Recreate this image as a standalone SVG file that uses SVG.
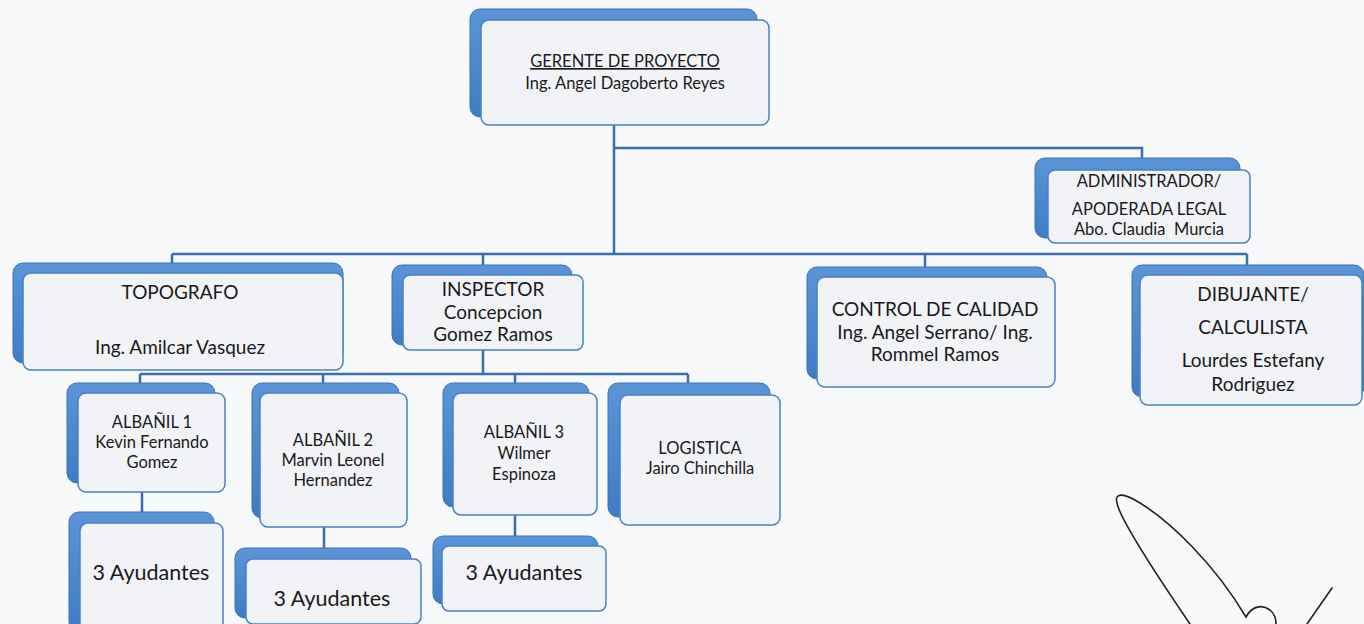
<svg xmlns="http://www.w3.org/2000/svg" width="1364" height="624" viewBox="0 0 1364 624">
<defs>
<linearGradient id="bk" x1="0" y1="0" x2="0" y2="1">
<stop offset="0" stop-color="#5b95d8"/>
<stop offset="1" stop-color="#3f7cc4"/>
</linearGradient>
<style>
.back{fill:url(#bk);stroke:#3a72b8;stroke-width:1}
.front{fill:#f1f3f6;stroke:#4a80c2;stroke-width:1.5}
.t{font-family:Lato,"Liberation Sans",sans-serif;font-size:16.5px;fill:#1a1a1a;text-anchor:middle;white-space:pre}
.m{font-size:19px}
.s{font-size:16.5px}
.b{font-size:21.5px}
.con{fill:none;stroke:#3a6db2;stroke-width:2.5}
.sig{fill:none;stroke:#222;stroke-width:1.6;stroke-linecap:round}
</style>
</defs>
<rect width="1364" height="624" fill="#f8f9fa"/>
<g id="connectors">
<path class="con" d="M614,124 V254 M614,148 H1142 V158"/>
<path class="con" d="M172,254 H1247 M172,254 V263 M483,254 V265 M925,254 V267 M1247,254 V265"/>
<path class="con" d="M483,350 V374 M140,374 H688 M140,374 V383 M323,374 V383 M515,374 V383 M688,374 V383"/>
<path class="con" d="M142,492 V512 M324,527 V548 M515,515 V536"/>
</g>
<g id="gerente">
<rect class="back" x="470" y="9" width="287" height="108" rx="10"/>
<rect class="front" x="481" y="20" width="288" height="105" rx="8"/>
<text class="t" x="625" y="67" text-decoration="underline">GERENTE DE PROYECTO</text>
<text class="t" x="625" y="89">Ing. Angel Dagoberto Reyes</text>
</g>
<g id="administrador">
<rect class="back" x="1035" y="158" width="205" height="80" rx="10"/>
<rect class="front" x="1048" y="170" width="202" height="73" rx="7"/>
<text class="t" x="1149" y="187">ADMINISTRADOR/</text>
<text class="t" x="1149" y="215">APODERADA LEGAL</text>
<text class="t" x="1149" y="235">Abo. Claudia  Murcia</text>
</g>
<g id="topografo">
<rect class="back" x="13" y="263" width="330" height="100" rx="10"/>
<rect class="front" x="23" y="273" width="320" height="97" rx="8"/>
<text class="t m" x="180" y="299">TOPOGRAFO</text>
<text class="t m" x="180" y="354">Ing. Amilcar Vasquez</text>
</g>
<g id="inspector">
<rect class="back" x="392" y="265" width="180" height="80" rx="10"/>
<rect class="front" x="403" y="275" width="180" height="75" rx="7"/>
<text class="t m" x="493" y="296">INSPECTOR</text>
<text class="t m" x="493" y="319">Concepcion</text>
<text class="t m" x="493" y="341">Gomez Ramos</text>
</g>
<g id="control">
<rect class="back" x="807" y="267" width="240" height="112" rx="10"/>
<rect class="front" x="817" y="277" width="238" height="110" rx="8"/>
<text class="t m" x="935" y="316">CONTROL DE CALIDAD</text>
<text class="t m" x="935" y="339">Ing. Angel Serrano/ Ing.</text>
<text class="t m" x="935" y="361">Rommel Ramos</text>
</g>
<g id="dibujante">
<rect class="back" x="1132" y="265" width="232" height="132" rx="10"/>
<rect class="front" x="1140" y="275" width="222" height="130" rx="8"/>
<text class="t m" x="1253" y="301">DIBUJANTE/</text>
<text class="t m" x="1253" y="334">CALCULISTA</text>
<text class="t m" x="1253" y="367">Lourdes Estefany</text>
<text class="t m" x="1253" y="391">Rodriguez</text>
</g>
<g id="albanil1">
<rect class="back" x="67" y="383" width="148" height="100" rx="10"/>
<rect class="front" x="78" y="393" width="147" height="99" rx="8"/>
<text class="t s" x="152" y="428">ALBAÑIL 1</text>
<text class="t s" x="152" y="448">Kevin Fernando</text>
<text class="t s" x="152" y="468">Gomez</text>
</g>
<g id="albanil2">
<rect class="back" x="252" y="383" width="147" height="135" rx="10"/>
<rect class="front" x="260" y="393" width="147" height="134" rx="8"/>
<text class="t s" x="333" y="446">ALBAÑIL 2</text>
<text class="t s" x="333" y="466">Marvin Leonel</text>
<text class="t s" x="333" y="486">Hernandez</text>
</g>
<g id="albanil3">
<rect class="back" x="443" y="383" width="146" height="124" rx="10"/>
<rect class="front" x="453" y="393" width="144" height="122" rx="8"/>
<text class="t s" x="524" y="438">ALBAÑIL 3</text>
<text class="t s" x="524" y="459">Wilmer</text>
<text class="t s" x="524" y="480">Espinoza</text>
</g>
<g id="logistica">
<rect class="back" x="608" y="383" width="162" height="134" rx="10"/>
<rect class="front" x="620" y="395" width="160" height="130" rx="8"/>
<text class="t s" x="700" y="454">LOGISTICA</text>
<text class="t s" x="700" y="474">Jairo Chinchilla</text>
</g>
<g id="ayudantes1">
<rect class="back" x="69" y="512" width="145" height="120" rx="10"/>
<rect class="front" x="80" y="523" width="143" height="110" rx="8"/>
<text class="t b" x="151" y="580">3 Ayudantes</text>
</g>
<g id="ayudantes2">
<rect class="back" x="235" y="548" width="176" height="70" rx="10"/>
<rect class="front" x="246" y="559" width="175" height="65" rx="7"/>
<text class="t b" x="332" y="606">3 Ayudantes</text>
</g>
<g id="ayudantes3">
<rect class="back" x="433" y="536" width="165" height="68" rx="10"/>
<rect class="front" x="442" y="546" width="164" height="65" rx="7"/>
<text class="t b" x="524" y="580">3 Ayudantes</text>
</g>
<g id="signature">
<path class="sig" d="M1190,624 C1160,580 1120,520 1117,503 C1114,492 1124,494 1135,500 C1170,520 1215,565 1246,617 C1252,606 1262,604 1270,610 C1275,614 1276,620 1276,624"/>
<path class="sig" d="M1332,588 L1307,624"/>
</g>
</svg>
